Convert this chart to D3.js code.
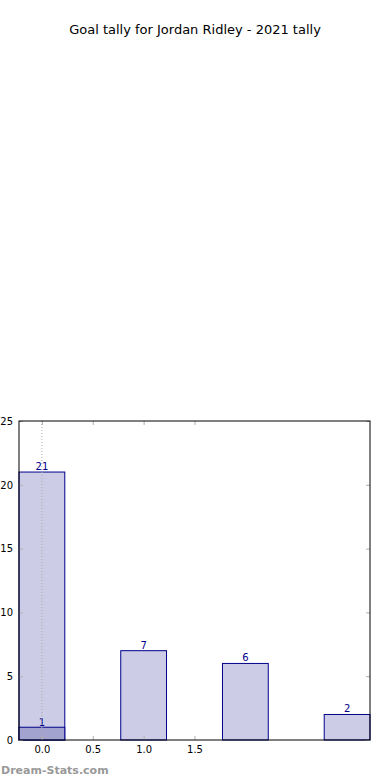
<!DOCTYPE html>
<meta charset="utf-8">
<style>
    body { margin: 0; background: white; }
    text { font-family: "DejaVu Sans", sans-serif; }
</style>
<body>
<script src="https://d3js.org/d3.v7.min.js"></script>
<script>
    var width = 390, height = 780;

    // goals per game (category) and how many games
    const goals = [0, 1, 2, 3];
    const games = [21, 7, 6, 2];
    // darker overlay in the first category
    const overlayGoals = [0];
    const overlayGames = [1];
    const xTicks = [0, 0.5, 1.0, 1.5];
    const yTicks = [0, 5, 10, 15, 20, 25];

    var barW = 0.45;
    var margin = { left: 19, right: 20, top: 421, bottom: 40 };

    var svg = d3.select("body").append("svg")
        .attr("width", width)
        .attr("height", height);

    var x = d3.scaleLinear()
        .domain([-barW / 2, 3 + barW / 2])
        .range([margin.left, width - margin.right]);

    var y = d3.scaleLinear()
        .domain([0, 25])
        .range([height - margin.bottom, margin.top]);

    svg.append("text")
        .attr("x", 195)
        .attr("y", 34)
        .attr("text-anchor", "middle")
        .attr("font-size", 13)
        .text("Goal tally for Jordan Ridley - 2021 tally");

    var g = svg.append("g");

    g.selectAll("rect.main")
        .data(goals)
        .enter().append("rect")
        .attr("class", "main")
        .attr("x", d => x(d - barW / 2))
        .attr("width", x(barW) - x(0))
        .attr("y", (d, i) => y(games[i]))
        .attr("height", (d, i) => y(0) - y(games[i]))
        .attr("fill", "rgb(204,204,230)")
        .attr("stroke", "#00008b")
        .attr("stroke-width", 1);

    g.selectAll("rect.over")
        .data(overlayGoals)
        .enter().append("rect")
        .attr("class", "over")
        .attr("x", d => x(d - barW / 2))
        .attr("width", x(barW) - x(0))
        .attr("y", (d, i) => y(overlayGames[i]))
        .attr("height", (d, i) => y(0) - y(overlayGames[i]))
        .attr("fill", "#a3a3cf")
        .attr("stroke", "#00008b")
        .attr("stroke-width", 1);

    // dotted line at zero, over the bars
    svg.append("line")
        .attr("x1", x(0)).attr("x2", x(0))
        .attr("y1", y(25)).attr("y2", y(0))
        .attr("stroke", "#aaaaaa")
        .attr("stroke-dasharray", "1,2");

    g.selectAll("text.lab")
        .data(goals)
        .enter().append("text")
        .attr("class", "lab")
        .attr("x", d => x(d))
        .attr("y", (d, i) => y(games[i]) - 2)
        .attr("text-anchor", "middle")
        .attr("font-size", 10)
        .attr("fill", "#00008b")
        .text((d, i) => games[i]);

    g.selectAll("text.olab")
        .data(overlayGoals)
        .enter().append("text")
        .attr("class", "olab")
        .attr("x", d => x(d))
        .attr("y", (d, i) => y(overlayGames[i]) - 1)
        .attr("text-anchor", "middle")
        .attr("font-size", 10)
        .attr("fill", "#00008b")
        .text((d, i) => overlayGames[i]);

    // axes, inward ticks
    var xAxis = svg.append("g")
        .attr("transform", "translate(0," + y(0) + ")")
        .call(d3.axisBottom(x).tickValues(xTicks).tickFormat(d3.format(".1f")).tickSize(-4).tickPadding(6));
    var xTop = svg.append("g")
        .attr("transform", "translate(0," + y(25) + ")")
        .call(d3.axisTop(x).tickValues(xTicks).tickFormat("").tickSize(-4));
    var yAxis = svg.append("g")
        .attr("transform", "translate(" + x.range()[0] + ",0)")
        .call(d3.axisLeft(y).tickValues(yTicks).tickSize(-4).tickPadding(6));
    var yRight = svg.append("g")
        .attr("transform", "translate(" + x.range()[1] + ",0)")
        .call(d3.axisRight(y).tickValues(yTicks).tickFormat("").tickSize(-4));

    [xAxis, xTop, yAxis, yRight].forEach(function (a) {
        a.select(".domain").remove();
        a.selectAll(".tick line").attr("stroke", "#b0b0b0");
        a.selectAll("text").attr("font-size", 10).attr("fill", "black")
            .attr("font-family", "DejaVu Sans");
    });

    // frame on top
    svg.append("rect")
        .attr("x", x.range()[0])
        .attr("y", y(25))
        .attr("width", x.range()[1] - x.range()[0])
        .attr("height", y(0) - y(25))
        .attr("fill", "none")
        .attr("stroke", "black")
        .attr("stroke-width", 1);

    svg.append("text")
        .attr("x", 1)
        .attr("y", 774)
        .attr("font-size", 11)
        .attr("font-weight", "bold")
        .attr("fill", "#999")
        .text("Dream-Stats.com");
</script>
</body>
</html>
